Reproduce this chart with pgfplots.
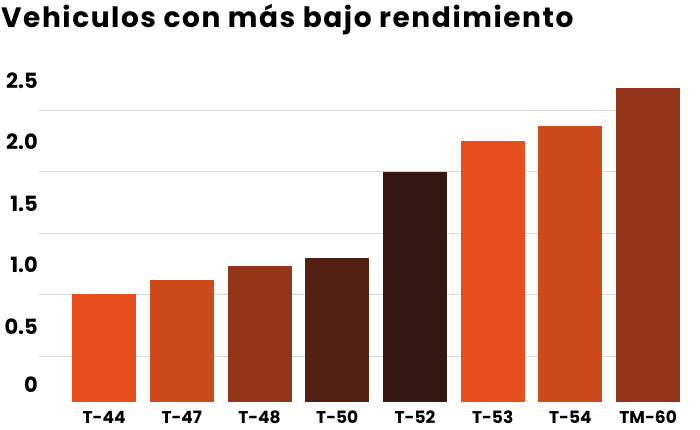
\documentclass[border=0pt]{standalone}
\usepackage{fontspec}
\setmainfont{Poppins}
\usepackage{pgfplots}
\pgfplotsset{compat=1.18}

\definecolor{cA}{HTML}{E84F1E}
\definecolor{cB}{HTML}{CD4A1C}
\definecolor{cC}{HTML}{933519}
\definecolor{cD}{HTML}{532013}
\definecolor{cE}{HTML}{361812}
\definecolor{gridc}{HTML}{D6D6D6}

\begin{document}
\begin{tikzpicture}
\useasboundingbox[fill=white] (0,0) rectangle (700bp,430bp);
\node[anchor=base west, inner sep=0pt] at (1bp,402bp)
  {\fontsize{28bp}{32bp}\selectfont\bfseries\addfontfeature{LetterSpace=5.6}Vehiculos con más bajo rendimiento};
\begin{axis}[
    at={(39bp,28bp)}, anchor=south west,
    scale only axis,
    width=641bp, height=318.6bp,
    xmin=-0.837, xmax=7.41,
    ymin=0.13, ymax=2.72,
    ybar, bar width=64bp, /pgf/bar shift=0pt,
    axis line style={draw=none},
    major tick length=0pt,
    xtick={0,...,7},
    xticklabels={T-44,T-47,T-48,T-50,T-52,T-53,T-54,TM-60},
    xticklabel style={font=\fontsize{17bp}{19bp}\selectfont\bfseries, inner sep=0pt, anchor=north, yshift=-9bp},
    ytick={0.5,1.0,1.5,2.0,2.5},
    yticklabels={0.5,1.0,1.5,2.0,2.5},
    yticklabel style={font=\fontsize{21bp}{24bp}\selectfont\bfseries, inner sep=0pt, anchor=east, xshift=-1bp, yshift=30bp},
    extra y ticks={0.13},
    extra y tick labels={0},
    extra y tick style={grid=none, yticklabel style={yshift=-13bp}},
    ymajorgrids,
    major grid style={draw=gridc, line width=1bp},
]
\addplot[fill=cA, draw=none] coordinates {(0,1.01)};
\addplot[fill=cB, draw=none] coordinates {(1,1.12)};
\addplot[fill=cC, draw=none] coordinates {(2,1.236)};
\addplot[fill=cD, draw=none] coordinates {(3,1.30)};
\addplot[fill=cE, draw=none] coordinates {(4,2.00)};
\addplot[fill=cA, draw=none] coordinates {(5,2.25)};
\addplot[fill=cB, draw=none] coordinates {(6,2.37)};
\addplot[fill=cC, draw=none] coordinates {(7,2.68)};
\end{axis}
\end{tikzpicture}
\end{document}
